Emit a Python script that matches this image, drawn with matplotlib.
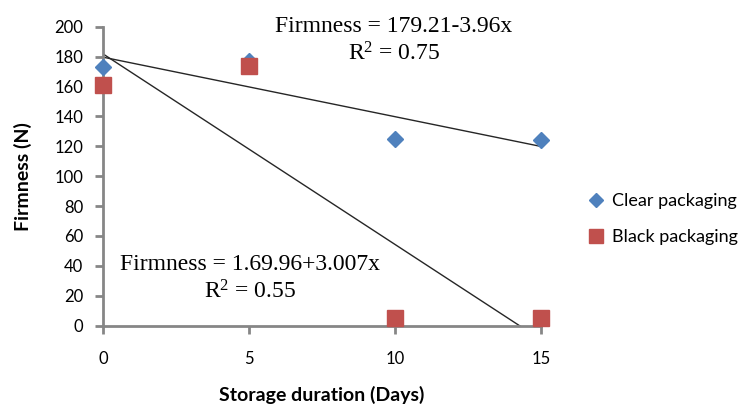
import numpy as np
import matplotlib
matplotlib.use("Agg")
import matplotlib.pyplot as plt
from matplotlib.lines import Line2D

days = [0, 5, 10, 15]
clear_firmness = [173, 177, 125, 124]
black_firmness = [161, 174, 5, 5]
series_names = ["Clear packaging", "Black packaging"]
eq_clear = ["Firmness = 179.21-3.96x", "R$^{2}$ = 0.75"]
eq_black = ["Firmness = 1.69.96+3.007x", "R$^{2}$ = 0.55"]
xticks = [0, 5, 10, 15]
yticks = list(range(0, 201, 20))

plt.rcParams["mathtext.fontset"] = "custom"
plt.rcParams["mathtext.rm"] = "Liberation Serif"
plt.rcParams["mathtext.it"] = "Liberation Serif:italic"
plt.rcParams["mathtext.default"] = "rm"

ui_font = ["Lato", "DejaVu Sans"]
serif_font = ["Liberation Serif", "DejaVu Serif"]
axis_gray = "#868686"
blue = "#4F81BD"
red = "#C0504D"

fig = plt.figure(figsize=(7.46, 4.08), dpi=100)
ax = fig.add_axes([0.138, 0.2017, 0.587, 0.733])

# trend lines from least-squares fits
xs = np.array(days, dtype=float)
xline = np.linspace(0, 15, 200)
for vals in (clear_firmness, black_firmness):
    m, b = np.polyfit(xs, np.array(vals, dtype=float), 1)
    ax.plot(xline, m * xline + b, color="#262626", lw=1.0, zorder=2)

ax.plot(days, clear_firmness, linestyle="none", marker="D", ms=8.5,
        color=blue, clip_on=False, zorder=3)
ax.plot(days, black_firmness, linestyle="none", marker="s", ms=12,
        color=red, clip_on=False, zorder=4)

ax.set_xlim(0, 15)
ax.set_ylim(0, 200)
ax.set_xticks(xticks)
ax.set_yticks(yticks)
for s in ("top", "right"):
    ax.spines[s].set_visible(False)
for s in ("left", "bottom"):
    ax.spines[s].set_color(axis_gray)
    ax.spines[s].set_linewidth(2)
ax.tick_params(axis="both", color=axis_gray, width=2, length=6, direction="out",
               labelsize=12)
ax.tick_params(axis="x", pad=12)
ax.tick_params(axis="y", pad=8)
for lab in ax.get_xticklabels() + ax.get_yticklabels():
    lab.set_family(ui_font)

ax.set_xlabel("Storage duration (Days)", family=ui_font, fontsize=14,
              fontweight="bold", labelpad=14)
ax.set_ylabel("Firmness (N)", family=ui_font, fontsize=14, fontweight="bold",
              labelpad=16)

fig.text(394 / 746, 1 - 27 / 408, eq_clear[0], family=serif_font, fontsize=17,
         ha="center", va="center")
fig.text(394 / 746, 1 - 54 / 408, eq_clear[1], family=serif_font, fontsize=17,
         ha="center", va="center")
fig.text(250 / 746, 1 - 265 / 408, eq_black[0], family=serif_font, fontsize=17,
         ha="center", va="center")
fig.text(250 / 746, 1 - 292 / 408, eq_black[1], family=serif_font, fontsize=17,
         ha="center", va="center")

handles = [
    Line2D([], [], linestyle="none", marker="D", ms=7, color=blue),
    Line2D([], [], linestyle="none", marker="s", ms=9.5, color=red),
]
leg = fig.legend(handles, series_names, loc="center left",
                 bbox_to_anchor=(580 / 746, 1 - 219 / 408), frameon=False,
                 prop={"family": ui_font, "size": 13}, handlelength=0.8,
                 handletextpad=0.45, labelspacing=1.1, borderpad=0)

fig.savefig("out.png", dpi=100)
